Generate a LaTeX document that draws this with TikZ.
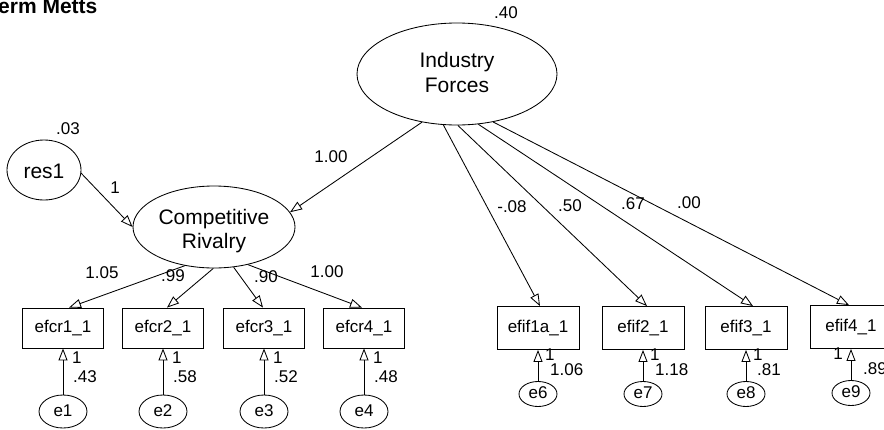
\documentclass[tikz,border=0pt]{standalone}
\usepackage{fontspec}
\setmainfont{Liberation Sans}
\usetikzlibrary{shapes.geometric,arrows.meta}
\begin{document}
\begin{tikzpicture}[x=1pt,y=-1pt,
  lat/.style={ellipse, draw, line width=0.85pt, inner sep=0pt},
  big/.style={inner sep=0pt, font=\fontsize{21}{24}\selectfont},
  obs/.style={rectangle, draw, line width=0.85pt, inner sep=0pt,
    minimum width=81pt, minimum height=40pt, font=\fontsize{17}{19}\selectfont},
  obsr/.style={obs, minimum width=82pt, minimum height=43pt},
  errl/.style={ellipse, draw, line width=0.85pt, inner sep=0pt,
    minimum width=48pt, minimum height=33pt, font=\fontsize{17}{19}\selectfont,
    text height=12.2pt, text depth=2.6pt},
  errr/.style={errl, minimum width=38pt, minimum height=25pt},
  num/.style={inner sep=0pt, font=\fontsize{17}{19}\selectfont},
  path/.style={-{Triangle[open,length=12pt,width=9pt]}, line width=0.85pt}]
\useasboundingbox (0,0) rectangle (884,429);
\clip (0,0) rectangle (884,429);

% heading
\node[anchor=base west, inner sep=0pt, font=\bfseries\fontsize{21}{24}\selectfont]
  (title) at (-2,13.5) {erm Metts};

% latent variables
\node[lat, minimum width=200pt, minimum height=102pt] (IF) at (457,74) {};
\node[big, anchor=base] (IFa) at (457,67.7) {Industry};
\node[big, anchor=base] (IFb) at (457,92.3) {Forces};
\node[lat, minimum width=162pt, minimum height=82pt] (CR) at (214,227) {};
\node[big, anchor=base] (CRa) at (214,224.3) {Competitive};
\node[big, anchor=base] (CRb) at (214,248.3) {Rivalry};
\node[lat, minimum width=74pt, minimum height=60pt] (res1) at (44,170) {};
\node[big, anchor=base] (res1t) at (44,178) {res1};

% observed indicators
\node[obs] (efcr1) at (63,328) {efcr1\_1};
\node[obs] (efcr2) at (163,328) {efcr2\_1};
\node[obs] (efcr3) at (264,328) {efcr3\_1};
\node[obs] (efcr4) at (364,328) {efcr4\_1};
\node[obsr] (efif1a) at (538,328) {efif1a\_1};
\node[obsr] (efif2) at (643,328) {efif2\_1};
\node[obsr] (efif3) at (746,328) {efif3\_1};
\node[obsr] (efif4) at (851,327) {efif4\_1};

% error terms
\node[errl] (e1) at (63,411.5) {e1};
\node[errl] (e2) at (163,411.5) {e2};
\node[errl] (e3) at (264,411.5) {e3};
\node[errl] (e4) at (364,411.5) {e4};
\node[errr] (e6) at (538,394) {e6};
\node[errr] (e7) at (643,394) {e7};
\node[errr] (e8) at (746,394) {e8};
\node[errr] (e9) at (851,393) {e9};

% structural paths
\draw[path] (IF.234) -- (CR.11);
\draw[path] (res1.355) -- (CR.west);

% loadings
\draw[path] (CR.233) -- ([xshift=6pt]efcr1.north);
\draw[path] (CR.269) -- ([xshift=4pt]efcr2.north);
\draw[path] (CR.296) -- ([xshift=-1pt]efcr3.north);
\draw[path] (CR.312) -- ([xshift=-2pt]efcr4.north);
\draw[path] (IF.255) -- ([xshift=2pt]efif1a.north);
\draw[path] (IF.271) -- ([xshift=4pt]efif2.north);
\draw[path] (IF.293) -- ([xshift=7pt]efif3.north);
\draw[path] (IF.307) -- ([xshift=-2pt]efif4.north);

% error paths
\foreach \e/\b in {e1/efcr1,e2/efcr2,e3/efcr3,e4/efcr4,e6/efif1a,e7/efif2,e8/efif3,e9/efif4}
  \draw[path] (\e) -- (\b);

% variances and weights
\node[num] (vIF) at (506,13) {.40};
\node[num] (vres) at (68,129) {.03};
\node[num] (wres) at (115,188) {1};
\node[num] (wCR) at (331,157) {1.00};
\node[num] (l1) at (102,273) {1.05};
\node[num] (l2) at (173,276) {.99};
\node[num] (l3) at (266,277) {.90};
\node[num] (l4) at (327,272) {1.00};
\node[num] (l5) at (512,207) {-.08};
\node[num] (l6) at (570,206) {.50};
\node[num] (l7) at (633,204) {.67};
\node[num] (l8) at (689,203) {.00};

\node[num, anchor=west] (w1) at (72,358) {1};
\node[num, anchor=west] (v1) at (73,377) {.43};
\node[num, anchor=west] (w2) at (172,358) {1};
\node[num, anchor=west] (v2) at (173,377) {.58};
\node[num, anchor=west] (w3) at (273,358) {1};
\node[num, anchor=west] (v3) at (274,377) {.52};
\node[num, anchor=west] (w4) at (373,358) {1};
\node[num, anchor=west] (v4) at (374,377) {.48};

\node[num, anchor=west] (w6) at (545,355) {1};
\node[num, anchor=west] (v6) at (550,369.5) {1.06};
\node[num, anchor=west] (w7) at (650,355) {1};
\node[num, anchor=west] (v7) at (655,369.5) {1.18};
\node[num, anchor=west] (w8) at (753,355) {1};
\node[num, anchor=west] (v8) at (757,369.5) {.81};
\node[num, anchor=east] (w9) at (843,354) {1};
\node[num, anchor=west] (v9) at (863,368.5) {.89};
\end{tikzpicture}
\end{document}
